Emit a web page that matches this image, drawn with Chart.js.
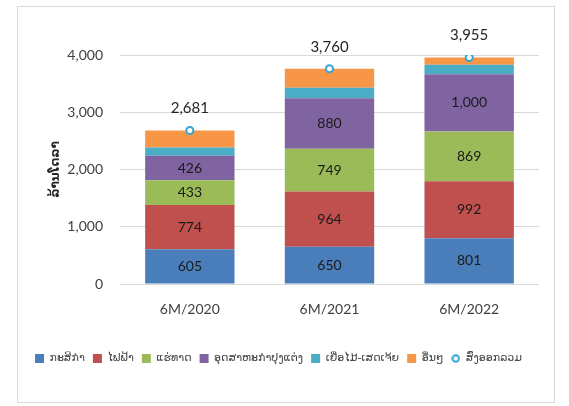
<!DOCTYPE html>
<html>
<head>
<meta charset="utf-8">
<script src="https://cdn.jsdelivr.net/npm/chart.js@4.4.0/dist/chart.umd.min.js"></script>
<style>
  html, body { margin: 0; padding: 0; background: #fff; }
  #frame {
    position: absolute; left: 17px; top: 6px;
    width: 538px; height: 397px;
    box-sizing: border-box; border: 1px solid #d9d9d9;
  }
  #frame canvas { display: block; }
</style>
</head>
<body>
<div id="frame"><canvas id="myChart" width="536" height="395"></canvas></div>
<script>
const categories = ['6M/2020', '6M/2021', '6M/2022'];
const seriesNames = ['ກະສິກຳ', 'ໄຟຟ້າ', 'ແຮ່ທາດ', 'ອຸດສາຫະກຳປຸງແຕ່ງ', 'ເຍື່ອໄມ້-ເສດເຈ້ຍ', 'ອື່ນໆ'];
const agriculture = [605, 650, 801];
const electricity = [774, 964, 992];
const minerals = [433, 749, 869];
const processing = [426, 880, 1000];
const pulpPaper = [148, 185, 166];
const others = [295, 332, 127];
const totalName = 'ສົ່ງອອກລວມ';
const totals = [2681, 3760, 3955];
const yTicks = [0, 1000, 2000, 3000, 4000];

const colors = ['#4a7ebb', '#c0504d', '#9bbb59', '#8064a2', '#4bacc6', '#f79646'];
const markerColor = '#35a3d3';
const seriesData = [agriculture, electricity, minerals, processing, pulpPaper, others];
const labelled = [true, true, true, true, false, false];

const FONT = "Lato, 'DejaVu Sans', sans-serif";
const LAO = "'DejaVu Sans', Lato, sans-serif";

// small ring used for the total in the legend
const legendRing = document.createElement('canvas');
legendRing.width = 9;
legendRing.height = 9;
(function () {
    const c = legendRing.getContext('2d');
    c.strokeStyle = markerColor;
    c.lineWidth = 2;
    c.beginPath();
    c.arc(4.5, 4.5, 3.2, 0, Math.PI * 2);
    c.stroke();
})();

// draws the numbers inside the segments and above the totals
const valueLabels = {
    id: 'valueLabels',
    afterDatasetsDraw(chart) {
        const ctx = chart.ctx;
        ctx.save();
        ctx.textAlign = 'center';
        ctx.textBaseline = 'middle';
        chart.data.datasets.forEach((ds, i) => {
            const meta = chart.getDatasetMeta(i);
            if (ds.type === 'line') {
                ctx.font = '15px ' + FONT;
                ctx.fillStyle = '#262626';
                meta.data.forEach((pt, j) => {
                    ctx.fillText(ds.data[j].toLocaleString('en-US'), pt.x, pt.y - 22);
                });
            } else if (labelled[i]) {
                ctx.font = '14px ' + FONT;
                ctx.fillStyle = '#1a1a1a';
                meta.data.forEach((bar, j) => {
                    ctx.fillText(ds.data[j].toLocaleString('en-US'), bar.x, (bar.y + bar.base) / 2);
                });
            }
        });
        ctx.restore();
    }
};

const datasets = seriesData.map((d, i) => ({
    type: 'bar',
    label: seriesNames[i],
    data: d,
    backgroundColor: colors[i],
    barPercentage: 0.64,
    categoryPercentage: 1,
    pointStyle: 'rect',
    order: 1
}));
datasets.push({
    type: 'line',
    label: totalName,
    data: totals,
    showLine: false,
    stack: 'total',
    pointStyle: 'circle',
    pointRadius: 3.5,
    pointBorderWidth: 2,
    pointBackgroundColor: '#ffffff',
    borderColor: markerColor,
    backgroundColor: '#ffffff',
    order: 0
});

new Chart(document.getElementById('myChart'), {
    data: { labels: categories, datasets: datasets },
    plugins: [valueLabels],
    options: {
        responsive: false,
        animation: false,
        layout: { padding: { top: 48, right: 15, bottom: 28, left: 0 } },
        plugins: {
            tooltip: { enabled: false },
            legend: {
                position: 'bottom',
                labels: {
                    usePointStyle: true,
                    boxWidth: 9,
                    boxHeight: 9,
                    padding: 8,
                    color: '#404040',
                    font: { family: LAO, size: 11 },
                    sort: (a, b) => a.datasetIndex - b.datasetIndex,
                    generateLabels: chart => {
                        const items = Chart.defaults.plugins.legend.labels.generateLabels(chart);
                        items.forEach(it => {
                            if (chart.data.datasets[it.datasetIndex].type === 'line') {
                                it.pointStyle = legendRing;
                            }
                        });
                        return items;
                    }
                }
            }
        },
        scales: {
            x: {
                stacked: true,
                afterFit: scale => { scale.height = 61; },
                grid: { display: false },
                border: { display: false },
                ticks: { color: '#404040', font: { family: FONT, size: 14 }, padding: 9 }
            },
            y: {
                stacked: true,
                min: 0,
                max: 4000,
                afterBuildTicks: scale => { scale.ticks = yTicks.map(v => ({ value: v })); },
                afterFit: scale => { scale.width = 102; },
                grid: { color: '#d9d9d9', drawTicks: false },
                border: { display: false },
                ticks: {
                    color: '#404040',
                    padding: 17,
                    font: { family: FONT, size: 14 },
                    callback: v => v.toLocaleString('en-US')
                },
                title: {
                    display: true,
                    text: 'ລ້ານໂດລາ',
                    color: '#262626',
                    font: { family: LAO, size: 12, weight: 'bold' },
                    padding: { top: 31 }
                }
            }
        }
    }
});
</script>
</body>
</html>
